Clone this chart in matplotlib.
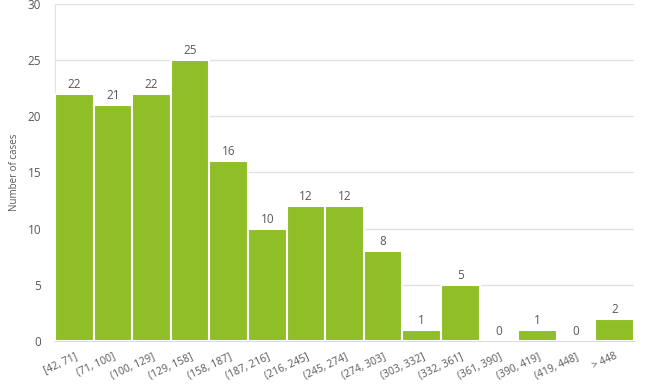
import matplotlib
matplotlib.use("Agg")
import matplotlib.pyplot as plt
import numpy as np

# bins and counts
bins = ["[42, 71]", "(71, 100]", "(100, 129]", "(129, 158]", "(158, 187]",
        "(187, 216]", "(216, 245]", "(245, 274]", "(274, 303]", "(303, 332]",
        "(332, 361]", "(361, 390]", "(390, 419]", "(419, 448]", "> 448"]
cases = [22, 21, 22, 25, 16, 10, 12, 12, 8, 1, 5, 0, 1, 0, 2]
yticks = [0, 5, 10, 15, 20, 25, 30]

plt.rcParams['font.family'] = ['Open Sans', 'DejaVu Sans']
text_col = "#595959"
bar_col = "#8fbe27"

fig = plt.figure(figsize=(6.45, 3.85), dpi=100)
ax = fig.add_axes([0.0853, 0.1143, 0.8977, 0.8753])

x = np.arange(len(bins))
ax.bar(x, cases, width=1.0, color=bar_col, edgecolor="white", linewidth=1.5, zorder=3)

for xi, v in zip(x, cases):
    ax.text(xi, v + 0.25, str(v), ha="center", va="bottom", fontsize=8.5, color=text_col, zorder=4)

ax.set_xlim(-0.5, len(bins) - 0.5)
ax.set_ylim(0, 30)
ax.set_yticks(yticks)
ax.yaxis.grid(True, color="#e2e2e2", linewidth=1, zorder=0)
ax.tick_params(axis="y", length=0, labelsize=8.5, labelcolor=text_col, pad=10)
ax.set_xticks(x)
ax.set_xticklabels(bins, rotation=25, ha="right", rotation_mode="anchor", fontsize=7.5, color=text_col)
ax.tick_params(axis="x", length=0, pad=7)

for s in ["top", "right"]:
    ax.spines[s].set_visible(False)
ax.spines["left"].set_color("#e2e2e2")
ax.spines["bottom"].set_color("#dcdcdc")

ax.set_ylabel("Number of cases", fontsize=7, color=text_col)
ax.yaxis.set_label_coords(-0.06, 0.5)

fig.savefig("out.png", dpi=100)
